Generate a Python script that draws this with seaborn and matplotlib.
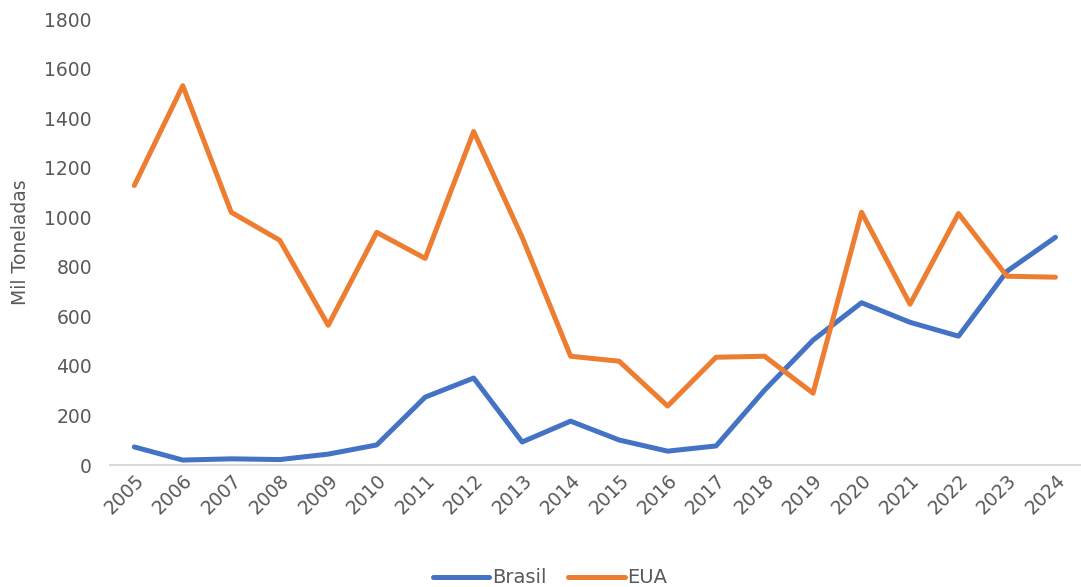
import pandas as pd
import matplotlib.pyplot as plt
import seaborn as sns

# Data (mil toneladas)
anos = [str(a) for a in range(2005, 2025)]
brasil = [73, 20, 25, 22, 44, 81, 274, 351, 93, 177,
          101, 56, 77, 302, 504, 655, 576, 520, 782, 919]
eua = [1128, 1531, 1020, 907, 564, 939, 834, 1346, 919, 439,
       419, 238, 435, 439, 290, 1020, 649, 1015, 762, 758]

df = pd.DataFrame({
    'Ano': anos * 2,
    'Valor': brasil + eua,
    'Pais': ['Brasil'] * len(anos) + ['EUA'] * len(anos),
})

sns.set_style('white')
plt.rcParams['font.family'] = ['DejaVu Sans']
cinza = '#595959'

fig = plt.figure(figsize=(10.81, 5.87), dpi=100)
ax = fig.add_axes([0.1018, 0.2078, 0.897, 0.7598])

sns.lineplot(data=df, x='Ano', y='Valor', hue='Pais',
             palette={'Brasil': '#4472C4', 'EUA': '#ED7D31'},
             linewidth=3.6, sort=False, ax=ax)
for ln in ax.lines:
    ln.set_solid_capstyle('round')
    ln.set_solid_joinstyle('round')

ax.set_xlim(-0.5, len(anos) - 0.5)
ax.set_ylim(0, 1800)
ax.set_yticks(range(0, 1801, 200))
ax.set_xlabel('')
ax.set_ylabel('Mil Toneladas', color=cinza, fontsize=13.5, labelpad=10)
ax.tick_params(axis='y', colors=cinza, labelsize=13.5, length=0, pad=13)
ax.tick_params(axis='x', colors=cinza, labelsize=13.5, length=0, pad=4)
plt.setp(ax.get_xticklabels(), rotation=45, ha='right', rotation_mode='anchor')

for s in ['top', 'right', 'left']:
    ax.spines[s].set_visible(False)
ax.spines['bottom'].set_color('#d9d9d9')
ax.spines['bottom'].set_linewidth(1.5)

leg = ax.legend(loc='center', bbox_to_anchor=(0.454, -0.253), ncol=2,
                frameon=False, fontsize=14, handlelength=2.9,
                handletextpad=0.15, columnspacing=1.1)
for t in leg.get_texts():
    t.set_color(cinza)
for h in leg.get_lines():
    h.set_linewidth(3.6)
    h.set_solid_capstyle('round')

fig.savefig('out.png', dpi=100)
